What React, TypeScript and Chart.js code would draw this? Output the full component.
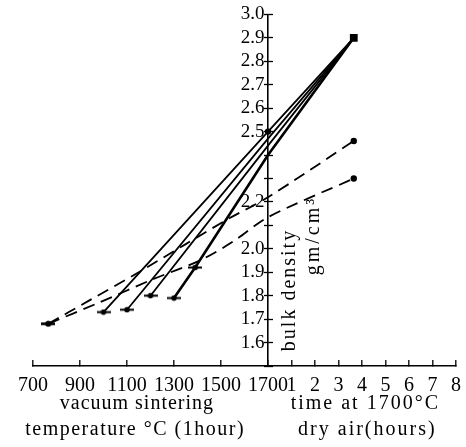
import React, { useEffect, useRef } from 'react';
import { Chart, registerables } from 'chart.js';

Chart.register(...registerables);

// ---- axis ticks ----
const tempTicks = [700, 900, 1100, 1300, 1500, 1700];
const tempTickLabels = ['700', '900', '1100', '1300', '1500', '1700'];
const hourTicks = [1, 2, 3, 4, 5, 6, 7, 8];
const hourTickLabels = ['1', '2', '3', '4', '5', '6', '7', '8'];
const densityTicks = [1.5, 1.6, 1.7, 1.8, 1.9, 2.0, 2.1, 2.2, 2.3, 2.4, 2.5, 2.6, 2.7, 2.8, 2.9, 3.0];
const densityTickLabels = ['', '1.6', '1.7', '1.8', '1.9', '2.0', '', '2.2', '', '', '2.5', '2.6', '2.7', '2.8', '2.9', '3.0'];

// ---- solid lines: vacuum sintering start -> 1700°C -> dry air ----
const s1Temps = [1000, 1700];
const s1Density = [1.73, 2.5];
const s2Temps = [1100, 1700];
const s2Density = [1.74, 2.47];
const s3Temps = [1200, 1700];
const s3Density = [1.8, 2.44];
const s4Temps = [1300, 1390, 1700];
const s4Density = [1.79, 1.92, 2.4];
const airHour = 3.65;
const solidAirDensity = 2.9;

// ---- dashed curves ----
const dashATemps = [765, 940, 1150, 1350, 1535, 1700];
const dashADensity = [1.68, 1.78, 1.9, 2.02, 2.13, 2.22];
const dashAAirDensity = 2.46;
const dashBTemps = [765, 980, 1210, 1410, 1550, 1700];
const dashBDensity = [1.68, 1.77, 1.87, 1.95, 2.03, 2.135];
const dashBAirDensity = 2.3;

// unified horizontal axis: temperature part to the left of 0, hours to the right
const tempToX = (t: number) => (t - 1700) / 100;

const xTickValues = [...tempTicks.map(tempToX), ...hourTicks];
const xTickLabels = [...tempTickLabels, ...hourTickLabels];

function xLabelFor(v: number): string {
  for (let i = 0; i < xTickValues.length; i++) if (Math.abs(xTickValues[i] - v) < 1e-6) return xTickLabels[i];
  return '';
}
function yLabelFor(v: number): string {
  for (let i = 0; i < densityTicks.length; i++) if (Math.abs(densityTicks[i] - v) < 1e-6) return densityTickLabels[i];
  return '';
}

function makeMarker(): HTMLCanvasElement {
  const c = document.createElement('canvas');
  c.width = 14;
  c.height = 7;
  const g = c.getContext('2d')!;
  g.fillStyle = '#000';
  g.fillRect(0, 2.5, 14, 2);
  g.beginPath();
  g.arc(7, 3.5, 2.8, 0, Math.PI * 2);
  g.fill();
  return c;
}

function pts(temps: number[], dens: number[], airDensity: number) {
  const arr = temps.map((t, i) => ({ x: tempToX(t), y: dens[i] }));
  arr.push({ x: airHour, y: airDensity });
  return arr;
}

function spaced(ctx: any, text: string, cx: number, cy: number, spacing: number) {
  // draw centred text with extra letter spacing, char by char
  const chars = Array.from(text);
  const widths = chars.map((ch) => ctx.measureText(ch).width);
  const total = widths.reduce((a, b) => a + b, 0) + spacing * (chars.length - 1);
  let xPos = cx - total / 2;
  ctx.textAlign = 'left';
  chars.forEach((ch, i) => {
    ctx.fillText(ch, xPos, cy);
    xPos += widths[i] + spacing;
  });
}

const titlePlugin = {
  id: 'axisTitles',
  afterDraw(chart: any) {
    const { ctx, scales } = chart;
    const x = scales.x;
    const y = scales.y;
    ctx.save();
    ctx.fillStyle = '#000';
    ctx.font = '20px "Liberation Serif"';
    ctx.textBaseline = 'middle';
    const bottom = chart.chartArea.bottom;
    const leftC = x.getPixelForValue(tempToX(1140));
    const rightC = x.getPixelForValue(4.1);
    spaced(ctx, 'vacuum sintering', leftC, bottom + 38, 1);
    spaced(ctx, 'temperature \u00b0C (1hour)', leftC - 2, bottom + 64, 1.5);
    spaced(ctx, 'time at 1700\u00b0C', rightC, bottom + 38, 2);
    spaced(ctx, 'dry air(hours)', rightC + 2, bottom + 64, 2);

    const axisX = x.getPixelForValue(0);
    ctx.save();
    ctx.translate(axisX + 22, y.getPixelForValue(1.82));
    ctx.rotate(-Math.PI / 2);
    spaced(ctx, 'bulk density', 0, 0, 2);
    ctx.restore();
    ctx.save();
    ctx.translate(axisX + 46, y.getPixelForValue(2.05));
    ctx.rotate(-Math.PI / 2);
    spaced(ctx, 'gm/cm\u00b3', 0, 0, 3);
    ctx.restore();
    ctx.restore();
  },
};

export default function App() {
  const ref = useRef<HTMLCanvasElement>(null);

  useEffect(() => {
    const canvas = ref.current;
    if (!canvas) return;
    const marker = makeMarker();
    const black = '#000';

    const solid = (label: string, temps: number[], dens: number[], width: number, showEnd: boolean, extra: number[]) => {
      const data = pts(temps, dens, solidAirDensity);
      const n = data.length;
      return {
        label,
        data,
        borderColor: black,
        backgroundColor: black,
        borderWidth: width,
        tension: 0,
        pointStyle: data.map((_, i) => (i === n - 1 ? 'rect' : extra[i] === -1 ? 'circle' : marker)) as any,
        pointRadius: data.map((_, i) => (i === n - 1 ? (showEnd ? 5.5 : 0) : extra[i] === -1 ? 3.2 : extra[i] === 1 ? 4 : 0)),
        pointBorderWidth: 0,
      };
    };

    const dashed = (label: string, temps: number[], dens: number[], air: number) => {
      const data = pts(temps, dens, air);
      const n = data.length;
      return {
        label,
        data,
        borderColor: black,
        backgroundColor: black,
        borderWidth: 1.8,
        borderDash: [12, 7],
        tension: 0.3,
        pointStyle: data.map((_, i) => (i === 0 ? marker : 'circle')) as any,
        pointRadius: data.map((_, i) => (i === 0 ? 4 : i === n - 1 ? 3.2 : 0)),
        pointBorderWidth: 0,
      };
    };

    const chart = new Chart(canvas, {
      type: 'line',
      data: {
        datasets: [
          dashed('A', dashATemps, dashADensity, dashAAirDensity),
          dashed('B', dashBTemps, dashBDensity, dashBAirDensity),
          solid('1000', s1Temps, s1Density, 1.8, true, [1, -1, 0]),
          solid('1100', s2Temps, s2Density, 1.8, false, [1, 0, 0]),
          solid('1200', s3Temps, s3Density, 1.8, false, [1, 0, 0]),
          solid('1300', s4Temps, s4Density, 2.6, false, [1, 1, 0, 0]),
        ] as any,
      },
      options: {
        responsive: false,
        animation: false,
        devicePixelRatio: 1,
        layout: { padding: { left: 33, right: 10, top: 14, bottom: 0 } },
        plugins: { legend: { display: false }, tooltip: { enabled: false } },
        scales: {
          x: {
            type: 'linear',
            min: -10,
            max: 8,
            afterBuildTicks: (s: any) => {
              s.ticks = xTickValues.map((v) => ({ value: v }));
            },
            afterFit: (s: any) => {
              s.height = 81;
              s.paddingLeft = 0;
              s.paddingRight = 0;
            },
            ticks: {
              autoSkip: false,
              maxRotation: 0,
              padding: 14,
              color: black,
              font: { family: 'Liberation Serif', size: 20 },
              callback: (v: any) => xLabelFor(Number(v)),
            },
            grid: {
              drawOnChartArea: true,
              color: (c: any) => (c.tick && Math.abs(c.tick.value) < 1e-9 ? black : 'rgba(0,0,0,0)'),
              lineWidth: 1.6,
              tickColor: black,
              tickLength: -6,
              tickWidth: 1.3,
            },
            border: { display: true, color: black, width: 1.6 },
          },
          y: {
            type: 'linear',
            min: 1.5,
            max: 3.0,
            position: { x: -0.15 } as any,
            afterBuildTicks: (s: any) => {
              s.ticks = densityTicks.map((v) => ({ value: v }));
            },
            ticks: {
              autoSkip: false,
              color: black,
              font: { family: 'Liberation Serif', size: 19 },
              callback: (v: any) => yLabelFor(Number(v)),
            },
            grid: {
              drawOnChartArea: false,
              tickColor: black,
              tickLength: -9,
              tickWidth: 1.3,
            },
            border: { display: false },
          },
        },
      },
      plugins: [titlePlugin],
    });
    return () => chart.destroy();
  }, []);

  return (
    <div style={{ position: 'absolute', left: 0, top: 0, width: 466, height: 447, background: '#fff' }}>
      <canvas ref={ref} width={466} height={447} style={{ display: 'block' }} />
    </div>
  );
}
